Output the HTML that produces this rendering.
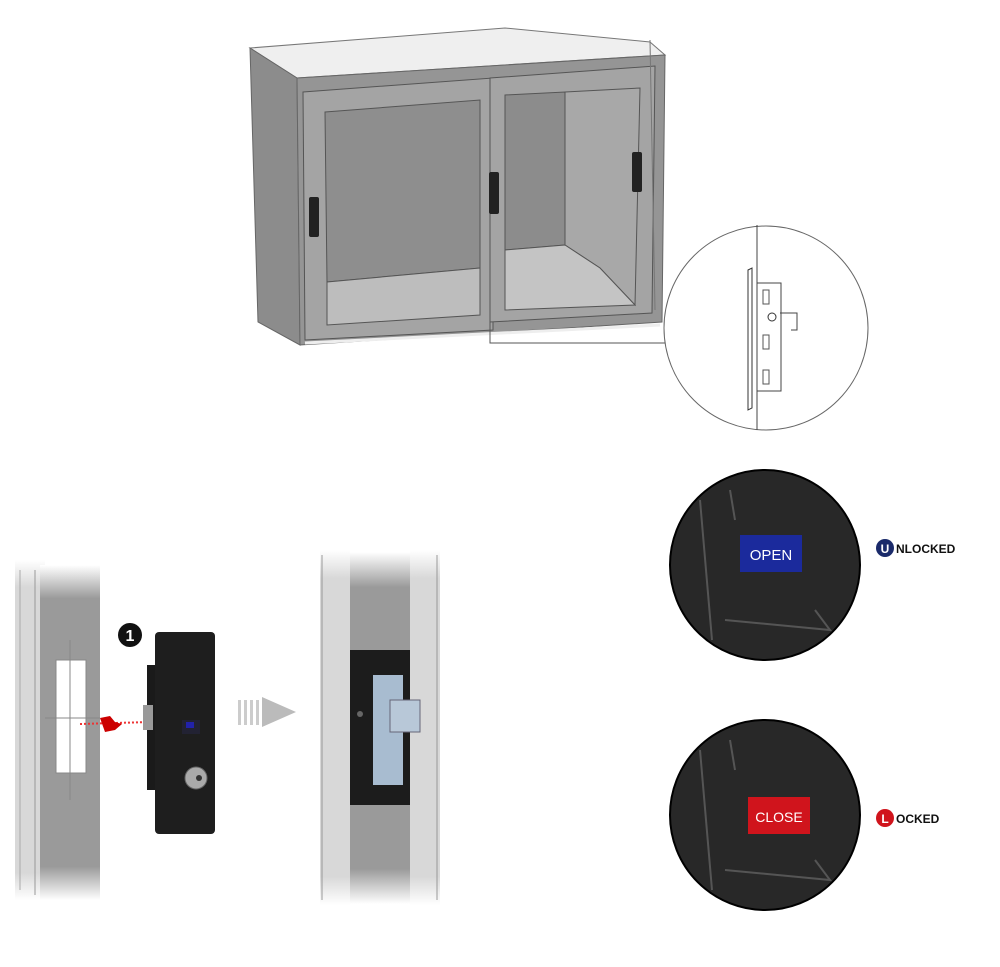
<!DOCTYPE html>
<html><head><meta charset="utf-8"><style>
html,body{margin:0;padding:0;background:#fff;}
svg{display:block;font-family:"Liberation Sans",Arial,sans-serif;}
</style></head><body>
<svg width="1000" height="967" viewBox="0 0 1000 967" xmlns="http://www.w3.org/2000/svg">
<defs>
<linearGradient id="pil" x1="0" x2="0" y1="0" y2="1"><stop offset="0" stop-color="#fff"/><stop offset="0.1" stop-color="#9a9a9a"/><stop offset="0.9" stop-color="#9a9a9a"/><stop offset="1" stop-color="#fff"/></linearGradient>
<linearGradient id="pil2" x1="0" x2="0" y1="0" y2="1"><stop offset="0" stop-color="#fff"/><stop offset="0.08" stop-color="#d8d8d8"/><stop offset="0.92" stop-color="#d8d8d8"/><stop offset="1" stop-color="#fff"/></linearGradient>
</defs>
<!-- cabinet -->
<polygon points="250,48 505,28 650,42 665,55 297,78" fill="#efefef" stroke="#777" stroke-width="1"/>
<polygon points="250,48 297,78 300,345 258,322" fill="#8c8c8c" stroke="#666"/>
<polygon points="297,78 665,55 662,322 300,345" fill="#959595" stroke="#666"/>
<polygon points="303,92 493,78 493,330 305,340" fill="#a4a4a4" stroke="#555"/>
<polygon points="325,112 480,100 480,268 327,282" fill="#8e8e8e" stroke="#555"/>
<polygon points="327,282 480,268 480,315 327,325" fill="#bdbdbd" stroke="#555"/>
<polygon points="490,78 655,66 652,313 490,322" fill="#a4a4a4" stroke="#555"/>
<polygon points="505,95 565,92 565,245 505,250" fill="#8c8c8c" stroke="#555"/>
<polygon points="565,92 640,88 635,305 600,268 565,245" fill="#a8a8a8" stroke="#555"/>
<polygon points="505,250 565,245 600,268 635,305 505,310" fill="#c4c4c4" stroke="#555"/>
<line x1="305" y1="343" x2="660" y2="325" stroke="#eee" stroke-width="3"/>
<line x1="650" y1="40" x2="655" y2="310" stroke="#777"/>
<rect x="309" y="197" width="10" height="40" rx="2" fill="#222"/>
<rect x="489" y="172" width="10" height="42" rx="2" fill="#222"/>
<rect x="632" y="152" width="10" height="40" rx="2" fill="#222"/>
<polyline points="490,322 490,343 665,343" fill="none" stroke="#555"/>
<circle cx="766" cy="328" r="102" fill="#fff" stroke="#666"/>
<line x1="757" y1="225" x2="757" y2="430" stroke="#444"/>
<path d="M748 270 L752 268 L752 408 L748 410 Z" fill="#fff" stroke="#333"/>
<rect x="757" y="283" width="24" height="108" fill="#fff" stroke="#444"/>
<circle cx="772" cy="317" r="4" fill="none" stroke="#333"/>
<polyline points="780,313 797,313 797,330 791,330" fill="none" stroke="#444"/>
<rect x="763" y="290" width="6" height="14" fill="none" stroke="#555"/>
<rect x="763" y="335" width="6" height="14" fill="none" stroke="#555"/>
<rect x="763" y="370" width="6" height="14" fill="none" stroke="#555"/>
<!-- left pillar -->
<rect x="15" y="560" width="30" height="340" fill="url(#pil2)"/>
<rect x="40" y="565" width="60" height="335" fill="url(#pil)"/>
<line x1="20" y1="570" x2="20" y2="890" stroke="#aaa"/>
<line x1="35" y1="570" x2="35" y2="895" stroke="#999"/>
<rect x="56" y="660" width="30" height="113" fill="#fff" stroke="#888"/>
<line x1="70" y1="640" x2="70" y2="800" stroke="#888"/>
<line x1="45" y1="718" x2="100" y2="718" stroke="#888"/>
<line x1="80" y1="724" x2="150" y2="722" stroke="#e33" stroke-dasharray="2,2" stroke-width="2"/>
<path d="M100 718 L110 716 L115 722 L122 724 L115 730 L105 732 Z" fill="#c00"/>
<circle cx="130" cy="635" r="12" fill="#111"/>
<text x="130" y="641" font-size="16" font-weight="bold" fill="#fff" text-anchor="middle">1</text>
<rect x="147" y="665" width="15" height="125" fill="#1a1a1a"/>
<rect x="143" y="705" width="10" height="25" fill="#999"/>
<rect x="155" y="632" width="60" height="202" rx="4" fill="#1e1e1e"/>
<rect x="182" y="720" width="18" height="14" fill="#223"/>
<rect x="186" y="722" width="8" height="6" fill="#22a"/>
<circle cx="196" cy="778" r="11" fill="#aaa" stroke="#666"/>
<circle cx="199" cy="778" r="3" fill="#333"/>
<rect x="238" y="700" width="3" height="25" fill="#ccc"/><rect x="244" y="700" width="3" height="25" fill="#ccc"/><rect x="250" y="700" width="3" height="25" fill="#ccc"/><rect x="256" y="700" width="3" height="25" fill="#ccc"/>
<polygon points="262,697 296,712 262,727" fill="#bbb"/>
<!-- right pillar -->
<rect x="320" y="550" width="30" height="355" fill="url(#pil2)"/>
<rect x="350" y="552" width="60" height="352" fill="url(#pil)"/>
<rect x="410" y="550" width="30" height="355" fill="url(#pil2)"/>
<line x1="322" y1="555" x2="322" y2="900" stroke="#999"/><line x1="437" y1="555" x2="437" y2="900" stroke="#999"/>
<rect x="350" y="650" width="60" height="155" fill="#1c1c1c"/>
<rect x="373" y="675" width="30" height="110" fill="#a8bcd0"/>
<rect x="390" y="700" width="30" height="32" fill="#b8c8d8" stroke="#667"/>
<circle cx="360" cy="714" r="3" fill="#666"/>
<!-- OPEN circle -->
<circle cx="765" cy="565" r="95" fill="#282828" stroke="#000" stroke-width="2"/>
<path d="M700 500 L712 640 M730 490 L735 520 M725 620 L830 630 L815 610" fill="none" stroke="#555" stroke-width="2"/>
<rect x="740" y="535" width="62" height="37" fill="#1b2a9c"/>
<text x="771" y="560" font-size="15" fill="#fff" text-anchor="middle">OPEN</text>
<circle cx="885" cy="548" r="9" fill="#1a2a6a"/>
<text x="885" y="553" font-size="12" font-weight="bold" fill="#fff" text-anchor="middle">U</text>
<text x="896" y="553" font-size="12" font-weight="bold" fill="#111">NLOCKED</text>
<!-- CLOSE circle -->
<circle cx="765" cy="815" r="95" fill="#282828" stroke="#000" stroke-width="2"/>
<path d="M700 750 L712 890 M730 740 L735 770 M725 870 L830 880 L815 860" fill="none" stroke="#555" stroke-width="2"/>
<rect x="748" y="797" width="62" height="37" fill="#d0141c"/>
<text x="779" y="822" font-size="14" fill="#fff" text-anchor="middle">CLOSE</text>
<circle cx="885" cy="818" r="9" fill="#d0141c"/>
<text x="885" y="823" font-size="12" font-weight="bold" fill="#fff" text-anchor="middle">L</text>
<text x="896" y="823" font-size="12" font-weight="bold" fill="#111">OCKED</text>
</svg>
</body></html>
